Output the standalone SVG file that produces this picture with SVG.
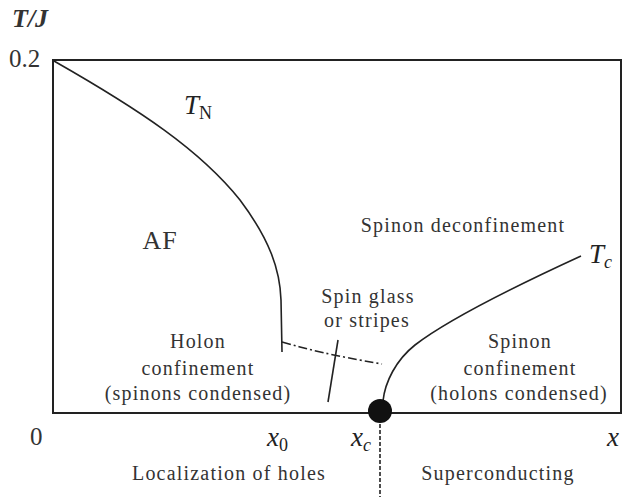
<svg xmlns="http://www.w3.org/2000/svg" width="622" height="497" viewBox="0 0 622 497" font-family="'Liberation Serif','Times New Roman',serif">
<style>
text{font-family:"Liberation Serif","Times New Roman",serif;fill:#333}
.lbl{font-size:20px;letter-spacing:1.2px;text-anchor:middle}
.it{font-style:italic;fill:#222}
.ln{fill:none;stroke:#222;stroke-width:2}
.thin{fill:none;stroke:#222;stroke-width:1.6}
</style>
<rect x="0" y="0" width="622" height="497" fill="#fff"/>
<g id="frame">
<rect x="53" y="60" width="568" height="353" class="ln"/>
</g>
<g id="connectors">
<path id="TN-curve" class="thin" d="M54,61 C140,110 200,150 240,200 C270,240 280,270 281,300 L282,352"/>
<path id="glass-line" class="thin" stroke-dasharray="9,3,2,3" d="M282,342 C310,350 330,355 382,364"/>
<path id="tick" class="thin" d="M338,340 L328,402"/>
<path id="Tc-curve" class="thin" d="M383,401 C385,382 396,360 415,345 C450,318 520,284 581,256"/>
<path id="xc-line" class="thin" stroke-width="1.4" stroke-dasharray="4,2" d="M380,412 L380,497"/>
</g>
<g id="qcp"><circle cx="380" cy="411" r="12" fill="#111"/></g>
<g id="axis-labels">
<text x="12" y="27" style="font-size:26px;font-weight:bold;font-style:italic" fill="#333">T/J</text>
<text x="9" y="67" style="font-size:25px">0.2</text>
<text x="30" y="445" style="font-size:25px">0</text>
<text x="267" y="446" class="it" style="font-size:27px">x<tspan style="font-size:18px;font-style:normal" dy="5">0</tspan></text>
<text x="351" y="446" class="it" style="font-size:27px">x<tspan style="font-size:18px" dy="5">c</tspan></text>
<text x="607" y="446" class="it" style="font-size:27px">x</text>
</g>
<g id="TN"><text x="184" y="114" class="it" style="font-size:27px">T<tspan style="font-size:18px;font-style:normal" dy="5">N</tspan></text></g>
<g id="Tc"><text x="589" y="263" class="it" style="font-size:27px">T<tspan style="font-size:18px" dy="5">c</tspan></text></g>
<g id="AF"><text x="160" y="249" class="lbl" style="font-size:26px;letter-spacing:1px">AF</text></g>
<g id="deconf"><text x="463" y="232" class="lbl">Spinon deconfinement</text></g>
<g id="glass"><text x="368" y="303" class="lbl">Spin glass</text><text x="367" y="327" class="lbl">or stripes</text></g>
<g id="holon"><text x="198" y="348" class="lbl">Holon</text><text x="198" y="375" class="lbl">confinement</text><text x="198" y="400" class="lbl">(spinons condensed)</text></g>
<g id="spinon"><text x="520" y="348" class="lbl">Spinon</text><text x="520" y="375" class="lbl">confinement</text><text x="519" y="400" class="lbl">(holons condensed)</text></g>
<g id="loc"><text x="229" y="480" class="lbl">Localization of holes</text></g>
<g id="sc"><text x="498" y="480" class="lbl">Superconducting</text></g>
</svg>
